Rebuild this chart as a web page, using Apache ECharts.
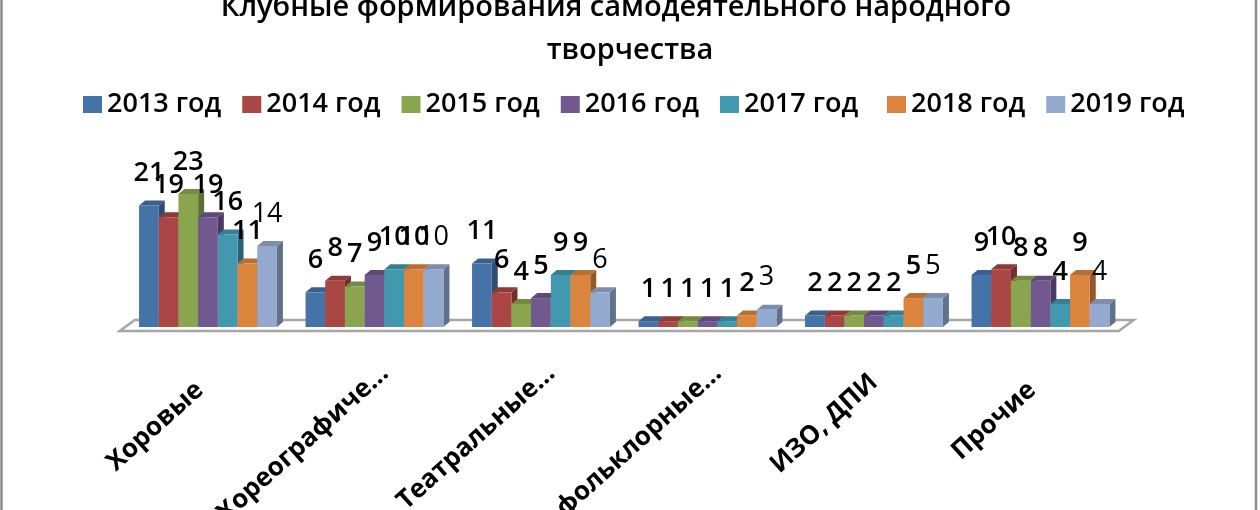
<!DOCTYPE html>
<html><head><meta charset="utf-8">
<style>html,body{margin:0;padding:0;background:#fff;overflow:hidden}#c{width:1260px;height:510px;filter:blur(0.4px)}</style>
<script src="https://cdn.jsdelivr.net/npm/echarts@6/dist/echarts.min.js"></script>
</head><body><div id="c"></div>
<script>
const categories = ['Хоровые','Хореографиче...','Театральные...','фольклорные...','ИЗО, ДПИ','Прочие'];
const years = ['2013 год','2014 год','2015 год','2016 год','2017 год','2018 год','2019 год'];
const y2013 = [21,6,11,1,2,9];
const y2014 = [19,8,6,1,2,10];
const y2015 = [23,7,4,1,2,8];
const y2016 = [19,9,5,1,2,8];
const y2017 = [16,10,9,1,2,4];
const y2018 = [11,10,9,2,5,9];
const y2019 = [14,10,6,3,5,4];
const values = [y2013,y2014,y2015,y2016,y2017,y2018,y2019];
const colors = ['#4572A7','#AA4643','#89A54E','#71588F','#4198AF','#DB843D','#93A9CF'];
const topColors = ['#3A6090','#8E3A38','#728A41','#5E4977','#367F93','#B96F33','#7C8EAE'];
const sideColors = ['#2E4D72','#722E2C','#5B6E33','#4B3A5F','#2B6575','#945828','#62718A'];
const FONT = '"Open Sans", sans-serif';
const DX = 6, DY = 5, BAR_RATIO = 0.1183;

function barItem(si){
  return function(params, api){
    const cat = api.value(0), v = api.value(1);
    const c0 = api.coord([cat, 0]), c1 = api.coord([cat, v]);
    const w = api.size([1,0])[0] * BAR_RATIO;
    const x = c0[0] + (si - 3.5) * w, y0 = c0[1], y1 = c1[1];
    const light = si === 6;
    return {type:'group', children:[
      {type:'polygon', shape:{points:[[x+w,y1],[x+w+DX,y1-DY],[x+w+DX,y0-DY],[x+w,y0]]}, style:{fill:sideColors[si]}},
      {type:'polygon', shape:{points:[[x,y1],[x+DX,y1-DY],[x+w+DX,y1-DY],[x+w,y1]]}, style:{fill:topColors[si]}},
      {type:'rect', shape:{x:x,y:y1,width:w,height:y0-y1}, style:{fill:colors[si]}},
      {type:'text', z2:100, style:{text:String(v), x:x+w/2, y:y1-32, align:'center', verticalAlign:'middle',
        font:(light?'400':'600')+' 27px '+FONT, fill:'#000'}}
    ]};
  };
}
const barSeries = years.map((name,si)=>({
  type:'custom', name, renderItem:barItem(si), itemStyle:{color:colors[si]},
  encode:{x:0,y:1}, data:values[si].map((v,i)=>[i,v]), clip:false, silent:true, animation:false
}));
const floorSeries = {
  type:'custom', name:'floor', clip:false, silent:true, animation:false, data:[[0,0]], encode:{x:0,y:1},
  renderItem(params, api){
    const r = params.coordSys, y = api.coord([0,0])[1], L = r.x-5, R = r.x+r.width-5;
    return {type:'polygon', shape:{points:[[L,y+4],[L+15,y-7],[R+15,y-7],[R,y+4]]},
      style:{fill:'#fff',stroke:'#A6A6A6',lineWidth:2.5}};
  }
};
const labelPadRight = [11,-14,-14,-14,0,11];
const legendText = {fontFamily:FONT,fontSize:27,fontWeight:600,color:'#000'};
const legendBase = {top:91,itemWidth:19,itemHeight:17,itemGap:21,icon:'rect',textStyle:legendText,selectedMode:false,padding:0};
const titleText = {fontFamily:FONT,fontSize:29,fontWeight:600,color:'#000'};
const chart = echarts.init(document.getElementById('c'));
chart.setOption({
  animation:false, backgroundColor:'#fff',
  title:[
    {text:'Клубные формирования самодеятельного народного',left:611,top:-12,textAlign:'center',textStyle:titleText},
    {text:'творчества',left:625,top:31,textAlign:'center',textStyle:titleText}
  ],
  legend:[
    Object.assign({},legendBase,{left:83,data:years.slice(0,5)}),
    Object.assign({},legendBase,{left:887,data:years.slice(5)})
  ],
  grid:{left:124.75,width:999,top:182.5,height:144.5,outerBoundsMode:'none'},
  xAxis:{type:'category',
    data:categories.map((value,i)=>({value,textStyle:{padding:[0,labelPadRight[i],0,0]}})),
    axisLine:{show:false},axisTick:{show:false},
    axisLabel:{interval:0,rotate:42,margin:52,fontFamily:FONT,fontSize:26,fontWeight:700,color:'#000',hideOverlap:false}},
  yAxis:{type:'value',min:0,max:25,show:false},
  graphic:[{type:'rect',shape:{x:1.5,y:-10,width:1254.5,height:540},style:{fill:'none',stroke:'#8C8C8C',lineWidth:2.5},silent:true,z:0}],
  series:[floorSeries].concat(barSeries)
});
</script></body></html>
